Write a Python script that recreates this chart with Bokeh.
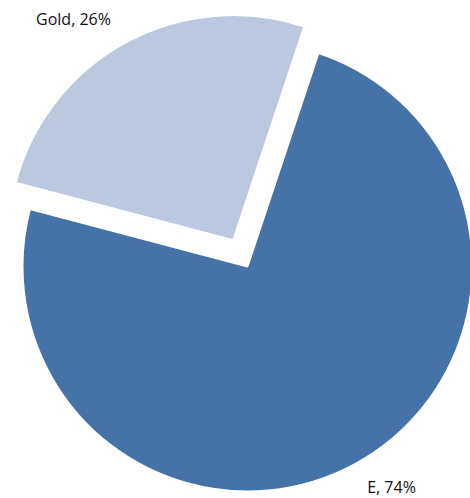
import math
from bokeh.plotting import figure
from bokeh.models import Range1d, ColumnDataSource
from bokeh.core.properties import value
from bokeh.embed import file_html
from bokeh.resources import INLINE

categories = ["Gold", "E"]
shares = [26, 74]
colors = ["#BCC8E0", "#4673A7"]
explode = [30, 0]

start_deg = 71.6
cx, cy, R = 247, 232, 225

starts, ends, xs, ys, labels = [], [], [], [], []
acc = start_deg
for cat, s, ex in zip(categories, shares, explode):
    a0 = math.radians(acc)
    acc += s / sum(shares) * 360
    a1 = math.radians(acc)
    mid = (a0 + a1) / 2
    starts.append(a0)
    ends.append(a1)
    xs.append(cx + ex * math.cos(mid))
    ys.append(cy + ex * math.sin(mid))
    labels.append(f"{cat}, {s}%")

src = ColumnDataSource(dict(x=xs, y=ys, start=starts, end=ends, color=colors))

p = figure(width=470, height=498, output_backend="svg", toolbar_location=None,
           x_range=Range1d(0, 470), y_range=Range1d(0, 498), min_border=0)
p.axis.visible = False
p.grid.visible = False
p.outline_line_color = None
p.background_fill_color = "white"

p.wedge(x="x", y="y", radius=R, start_angle="start", end_angle="end",
        fill_color="color", line_color="white", line_width=2, source=src)

lab = ColumnDataSource(dict(x=[73, 391], y=[480, 12], text=labels))
p.text(x="x", y="y", text="text", source=lab, text_align="center",
       text_baseline="middle", text_font=value("Open Sans"),
       text_font_size="16px", text_color="#111111")

open("out.html", "w").write(file_html(p, INLINE))
